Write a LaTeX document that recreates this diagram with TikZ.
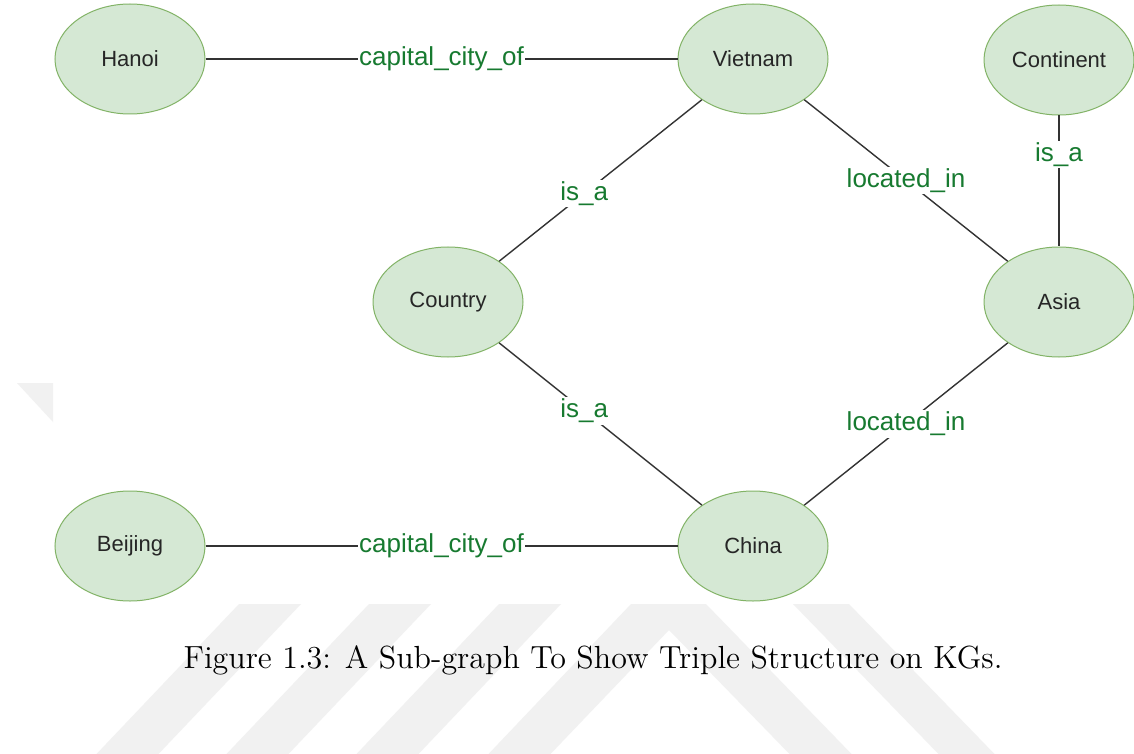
\documentclass[tikz,border=0pt]{standalone}
\usepackage{fontspec}
\usepackage{xcolor}
\usepackage{tikz}
\usetikzlibrary{shapes.geometric}
\newfontfamily\drawiofont{Liberation Sans}
\newfontfamily\captionfont{lmroman12-regular.otf}
\definecolor{entityfill}{HTML}{D5E8D4}
\definecolor{entityline}{HTML}{82B366}
\definecolor{relgreen}{HTML}{177A30}
\definecolor{markgray}{HTML}{F1F1F1}

\begin{document}
\begin{tikzpicture}[x=0.5pt,y=-0.5pt,
	entity/.style={ellipse, draw=entityline, fill=entityfill, line width=0.5pt,
		minimum width=75pt, minimum height=55pt, inner sep=0pt,
		font=\drawiofont\fontsize{11}{13}\selectfont, text=black!85},
	rel/.style={fill=white, inner sep=0.8pt, text=relgreen,
		font=\drawiofont\fontsize{13}{15}\selectfont},
	link/.style={line width=0.7pt, draw=black!80}]

\useasboundingbox[fill=white] (0,0) rectangle (1134,754);

% faint stripes behind the page
\foreach \a in {239,369,499}{
	\fill[markgray] (\a,604)--(\a+62,604)--(\a-80.5,754)--(\a-142.5,754)--cycle;
}
\fill[markgray] (631,604)--(706,604)--(851.5,754)--(789.5,754)--(669,630)--(550.5,754)--(488.5,754)--cycle;
\fill[markgray] (793,604)--(849,604)--(994.5,754)--(938.5,754)--cycle;
\fill[markgray] (17,383)--(53,383)--(53,422)--cycle;

% entities
\node[entity] (hanoi) at (130,59) {Hanoi};
\node[entity] (vietnam) at (753,59) {Vietnam};
\node[entity] (continent) at (1059,60) {Continent};
\node[entity] (country) at (448,302) {Country};
\node[entity] (asia) at (1059,302) {Asia};
\node[entity] (beijing) at (130,546) {Beijing};
\node[entity] (china) at (753,546) {China};

% relations
\draw[link] (hanoi) -- node[rel] {capital\_city\_of} (vietnam);
\draw[link] (vietnam) -- node[rel,pos=0.58] {is\_a} (country);
\draw[link] (vietnam) -- node[rel] {located\_in} (asia);
\draw[link] (continent) -- node[rel,pos=0.3] {is\_a} (asia);
\draw[link] (country) -- node[rel,pos=0.42] {is\_a} (china);
\draw[link] (asia) -- node[rel] {located\_in} (china);
\draw[link] (beijing) -- node[rel] {capital\_city\_of} (china);

\node[anchor=base, font=\captionfont\fontsize{16}{19}\selectfont] (caption) at (593,668)
	{Figure 1.3: A Sub-graph To Show Triple Structure on KGs.};
\end{tikzpicture}
\end{document}
